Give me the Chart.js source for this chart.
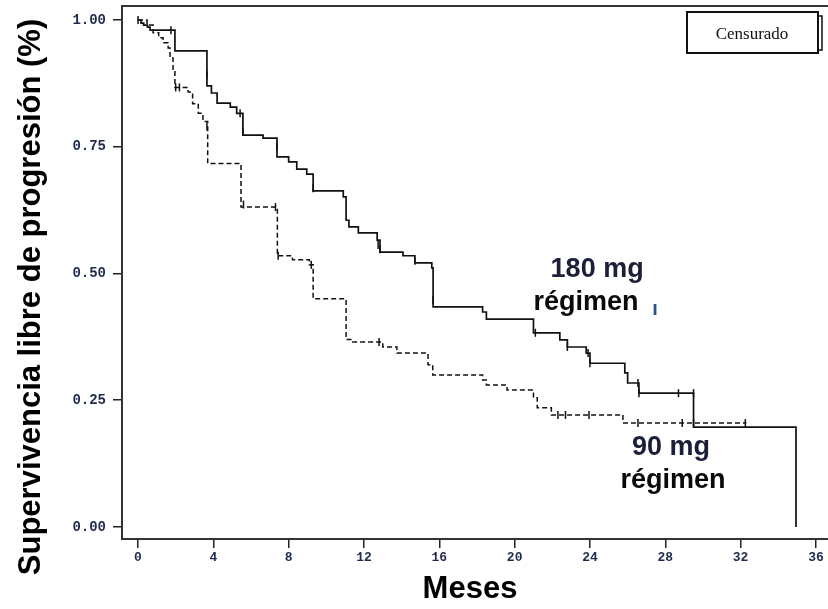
<!DOCTYPE html>
<html>
<head>
<meta charset="utf-8">
<script src="https://cdn.jsdelivr.net/npm/chart.js@4/dist/chart.umd.min.js"></script>
<style>
html,body{margin:0;padding:0;background:#fff;}
canvas{display:block;}
</style>
</head>
<body>
<canvas id="c" width="828" height="609"></canvas>
<script>
// ---- tick labels ----
const xTickValues = [0, 4, 8, 12, 16, 20, 24, 28, 32, 36];
const yTickValues = [0, 0.25, 0.5, 0.75, 1.0];

// ---- 180 mg regimen (solid) : event times (months) and survival after event ----
const months180 = [0, 0.16, 0.3, 0.5, 0.64, 1.96, 3.66, 3.9, 4.2, 4.9, 5.24, 5.57, 6.64, 7.38, 8.0, 8.43, 8.96, 9.3,
  10.9, 11.05, 11.2, 11.7, 12.7, 12.85, 14.07, 14.7, 15.6, 15.67, 18.3, 18.5, 21.0, 22.4, 22.8, 23.8, 24.0,
  25.85, 26.0, 26.6, 29.5, 34.94];
const surv180 = [1.0, 0.994, 0.99, 0.986, 0.98, 0.939, 0.87, 0.856, 0.836, 0.828, 0.816, 0.773, 0.767, 0.730, 0.72, 0.706, 0.696, 0.663,
  0.651, 0.605, 0.592, 0.580, 0.566, 0.542, 0.535, 0.521, 0.511, 0.434, 0.424, 0.41, 0.383, 0.369, 0.355, 0.343, 0.323,
  0.304, 0.284, 0.264, 0.197, 0.0];
const censorMonths180 = [0, 1.75, 3.66, 5.42, 5.57, 7.38, 9.3, 12.75, 12.85, 14.7, 15.67, 21.1, 22.8, 23.9, 24.0, 26.55, 26.6, 28.7, 29.5];
const censorSurv180 = [1.0, 0.98, 0.891, 0.816, 0.78, 0.75, 0.668, 0.556, 0.548, 0.525, 0.447, 0.383, 0.355, 0.343, 0.323, 0.284, 0.264, 0.264, 0.264];

// ---- 90 mg regimen (dashed) ----
const months90 = [0, 0.48, 0.8, 1.1, 1.33, 1.6, 1.7, 1.86, 1.96, 2.66, 2.9, 3.2, 3.45, 3.7, 5.47, 7.4, 8.2, 9.1, 9.3,
  11.05, 11.3, 13.0, 13.75, 15.4, 15.65, 18.3, 18.5, 19.6, 21.0, 21.2, 21.95, 25.75, 32.3];
const surv90 = [1.0, 0.99, 0.975, 0.965, 0.955, 0.945, 0.925, 0.90, 0.867, 0.858, 0.835, 0.816, 0.80, 0.717, 0.631, 0.535, 0.527, 0.517, 0.45,
  0.37, 0.365, 0.355, 0.343, 0.32, 0.30, 0.29, 0.28, 0.27, 0.255, 0.235, 0.221, 0.205, 0.205];
const censorMonths90 = [2.0, 2.2, 3.66, 5.6, 7.3, 7.44, 9.2, 12.8, 22.3, 22.7, 23.95, 26.55, 28.9, 29.5, 32.25];
const censorSurv90 = [0.867, 0.867, 0.79, 0.636, 0.631, 0.535, 0.517, 0.365, 0.221, 0.221, 0.221, 0.205, 0.205, 0.205, 0.205];

// ---- text ----
const xTitle = 'Meses';
const yTitle = 'Supervivencia libre de progresión (%)';
const legendText = 'Censurado';
const annotations = [
  {text: '180 mg', x: 24.38, y: 0.493, color: '#1b1f38'},
  {text: 'régimen', x: 23.79, y: 0.428, color: '#0a0a0a'},
  {text: '90 mg', x: 28.3, y: 0.142, color: '#1b1f38'},
  {text: 'régimen', x: 28.41, y: 0.077, color: '#0a0a0a'}
];

const pts = (xs, ys) => xs.map((t, i) => ({x: t, y: ys[i]}));

const framePlugin = {
  id: 'frame',
  afterDraw(chart) {
    const {ctx, chartArea, scales} = chart;
    ctx.save();
    // top frame line
    ctx.strokeStyle = '#333';
    ctx.lineWidth = 2;
    ctx.beginPath();
    ctx.moveTo(chartArea.left, chartArea.top);
    ctx.lineTo(chartArea.right, chartArea.top);
    ctx.stroke();
    // y axis title (rotated)
    ctx.save();
    ctx.translate(31, 297);
    ctx.rotate(-Math.PI / 2);
    ctx.font = 'bold 31px "Liberation Sans", Arial, sans-serif';
    ctx.fillStyle = '#000';
    ctx.textAlign = 'center';
    ctx.textBaseline = 'middle';
    ctx.fillText(yTitle, 0, 0);
    ctx.restore();
    // x axis title
    ctx.font = 'bold 31px "Liberation Sans", Arial, sans-serif';
    ctx.fillStyle = '#000';
    ctx.textAlign = 'center';
    ctx.textBaseline = 'middle';
    ctx.fillText(xTitle, 470, 589);
    // annotations
    ctx.font = 'bold 27px "Liberation Sans", Arial, sans-serif';
    ctx.textAlign = 'center';
    ctx.textBaseline = 'alphabetic';
    annotations.forEach(a => {
      ctx.fillStyle = a.color;
      ctx.fillText(a.text, scales.x.getPixelForValue(a.x), scales.y.getPixelForValue(a.y));
    });
    ctx.font = 'bold 20px "Liberation Sans", Arial, sans-serif';
    ctx.fillStyle = '#2b4f8a';
    ctx.fillText('ı', scales.x.getPixelForValue(27.45), scales.y.getPixelForValue(0.418));
    // legend box
    ctx.strokeStyle = '#111';
    ctx.lineWidth = 2;
    ctx.strokeRect(687, 12, 131, 41);
    ctx.lineWidth = 1.5;
    ctx.beginPath();
    ctx.moveTo(818, 16);
    ctx.lineTo(822, 16);
    ctx.lineTo(822, 50);
    ctx.lineTo(818, 50);
    ctx.stroke();
    ctx.fillStyle = '#111';
    ctx.font = '17px "Liberation Serif", "Times New Roman", serif';
    ctx.textAlign = 'center';
    ctx.textBaseline = 'alphabetic';
    ctx.fillText(legendText, 752, 39);
    ctx.restore();
  }
};

const xTickFont = {family: '"Liberation Mono", "DejaVu Sans Mono", monospace', weight: 'bold', size: 13};
const yTickFont = {family: '"Liberation Mono", "DejaVu Sans Mono", monospace', weight: 'bold', size: 14};

new Chart(document.getElementById('c'), {
  type: 'line',
  data: {
    datasets: [
      {label: '180 mg', data: pts(months180, surv180), stepped: true, borderColor: '#111', borderWidth: 1.7, pointRadius: 0, fill: false},
      {label: '90 mg', data: pts(months90, surv90), stepped: true, borderColor: '#111', borderWidth: 1.5, borderDash: [5, 3], pointRadius: 0, fill: false},
      {label: 'Censurado 180', data: pts(censorMonths180, censorSurv180), showLine: false, pointStyle: 'line', pointRotation: 90, pointRadius: 4, pointBorderColor: '#111', pointBorderWidth: 1.5},
      {label: 'Censurado 90', data: pts(censorMonths90, censorSurv90), showLine: false, pointStyle: 'line', pointRotation: 90, pointRadius: 4, pointBorderColor: '#111', pointBorderWidth: 1.5}
    ]
  },
  options: {
    responsive: false,
    animation: false,
    layout: {autoPadding: false, padding: {top: 6, right: 0, left: 0, bottom: 0}},
    plugins: {legend: {display: false}, tooltip: {enabled: false}},
    elements: {line: {tension: 0}},
    scales: {
      x: {
        type: 'linear', min: -0.85, max: 36.64,
        afterBuildTicks: s => { s.ticks = xTickValues.map(v => ({value: v})); },
        afterFit: s => { s.height = 70; s.paddingLeft = 0; s.paddingRight = 0; },
        grid: {drawOnChartArea: false, drawTicks: true, tickLength: 9, color: '#222', lineWidth: 1.5},
        border: {display: true, color: '#333', width: 2},
        ticks: {font: xTickFont, color: '#1f2a4d', padding: 2, maxRotation: 0, autoSkip: false, callback: v => String(v)},
        title: {display: false, text: xTitle}
      },
      y: {
        type: 'linear', min: -0.0237, max: 1.0276,
        afterBuildTicks: s => { s.ticks = yTickValues.map(v => ({value: v})); },
        afterFit: s => { s.width = 122; s.paddingTop = 0; s.paddingBottom = 0; },
        grid: {drawOnChartArea: false, drawTicks: true, tickLength: 9, color: '#222', lineWidth: 1.5},
        border: {display: true, color: '#333', width: 2},
        ticks: {font: yTickFont, color: '#1f2a4d', padding: 7, autoSkip: false, callback: v => Number(v).toFixed(2)},
        title: {display: false, text: yTitle}
      }
    }
  },
  plugins: [framePlugin]
});
</script>
</body>
</html>
